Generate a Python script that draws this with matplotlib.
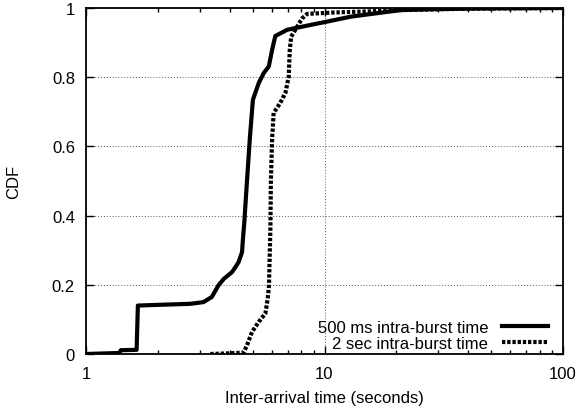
import matplotlib
matplotlib.use("Agg")
import matplotlib.pyplot as plt
from matplotlib.ticker import NullFormatter, LogLocator

plt.rcParams['font.family'] = ['Liberation Sans', 'DejaVu Sans']

x_500ms = [1.0, 1.38, 1.40, 1.63, 1.65, 2.0, 2.73, 3.11, 3.37, 3.59, 3.78, 4.10, 4.36,
           4.51, 4.55, 4.61, 4.70, 4.86, 5.01, 5.30, 5.56, 5.84, 6.03, 6.22, 6.97, 8.73,
           10.3, 12.9, 16.6, 20.9, 30, 50, 100]
y_500ms = [0.0, 0.003, 0.011, 0.012, 0.14, 0.142, 0.145, 0.150, 0.165, 0.198, 0.217, 0.237,
           0.265, 0.294, 0.332, 0.38, 0.47, 0.62, 0.735, 0.783, 0.812, 0.831, 0.879, 0.919,
           0.937, 0.951, 0.961, 0.975, 0.985, 0.994, 0.997, 0.999, 1.0]

x_2sec = [3.32, 4.0, 4.58, 4.73, 4.97, 5.30, 5.65, 5.78, 5.85, 5.93, 5.96, 6.03, 6.12, 6.53,
          6.86, 7.08, 7.15, 7.25, 7.68, 8.06, 8.46, 10.9, 15.1, 20.9, 40, 100]
y_2sec = [0.0, 0.002, 0.004, 0.025, 0.064, 0.093, 0.117, 0.16, 0.198, 0.36, 0.5, 0.62, 0.697,
          0.726, 0.755, 0.802, 0.879, 0.917, 0.946, 0.970, 0.983, 0.987, 0.99, 0.994, 0.998, 1.0]

labels = ["500 ms intra-burst time", "2 sec intra-burst time"]
x_ticks = [1, 10, 100]
x_ticklabels = ["1", "10", "100"]
y_ticks = [0, 0.2, 0.4, 0.6, 0.8, 1]
y_ticklabels = ["0", "0.2", "0.4", "0.6", "0.8", "1"]

FS = 12

fig = plt.figure(figsize=(5.82, 4.10), dpi=100)
ax = fig.add_axes([86/582, 55/410, (563-86)/582, (355-9)/410])

ax.plot(x_500ms, y_500ms, color='black', lw=3.0, solid_joinstyle='round', label=labels[0])
ax.plot(x_2sec, y_2sec, color='black', lw=3.0, linestyle=(0, (0.8, 0.45)), label=labels[1])

ax.set_xscale('log')
ax.set_xlim(1, 100)
ax.set_ylim(0, 1)
ax.set_xticks(x_ticks)
ax.set_xticklabels(x_ticklabels)
ax.xaxis.set_minor_locator(LogLocator(base=10, subs=range(2, 10)))
ax.xaxis.set_minor_formatter(NullFormatter())
ax.set_yticks(y_ticks)
ax.set_yticklabels(y_ticklabels)

ax.tick_params(which='both', direction='in', top=True, right=True, labelsize=FS)
ax.tick_params(axis='x', pad=9)
ax.tick_params(axis='y', pad=8)
ax.tick_params(which='major', length=6, width=1)
ax.tick_params(which='minor', length=3, width=1)
for s in ax.spines.values():
    s.set_linewidth(1.3)

ax.grid(True, which='major', linestyle=(0, (1, 2)), color='#555555', linewidth=0.7)

ax.set_xlabel("Inter-arrival time (seconds)", fontsize=FS, labelpad=6)
ax.set_ylabel("CDF", fontsize=FS, labelpad=22)

ax.legend(loc='lower right', frameon=False, markerfirst=False, fontsize=FS,
          handlelength=2.8, handletextpad=0.8, labelspacing=0.05,
          borderaxespad=0.2, bbox_to_anchor=(0.99, -0.02))

fig.savefig("out.png", dpi=100)
